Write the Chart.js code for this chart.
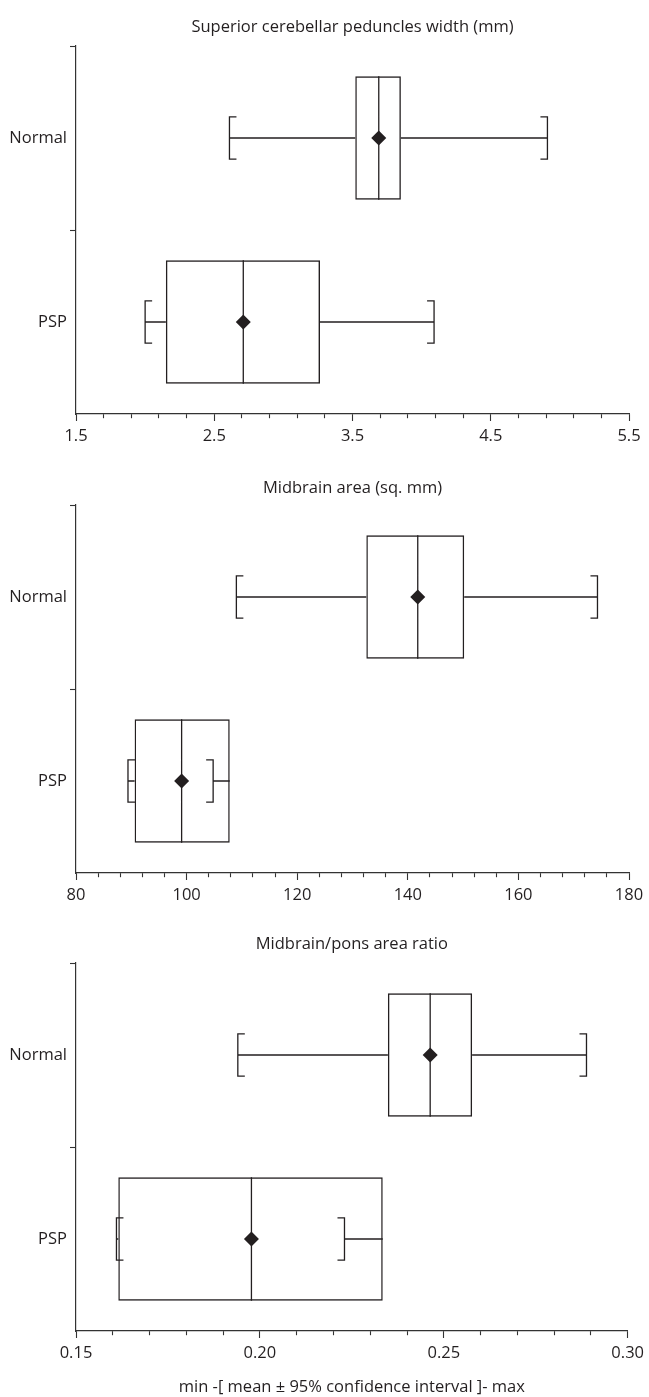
<!DOCTYPE html>
<html>
<head>
<meta charset="utf-8">
<script src="https://cdn.jsdelivr.net/npm/chart.js@4/dist/chart.umd.min.js"></script>
<style>
html,body{margin:0;padding:0;background:#ffffff;}
#wrap{position:relative;width:649px;height:1397px;overflow:hidden;}
.panel{position:absolute;left:0;width:649px;}
canvas{display:block;}
</style>
</head>
<body>
<div id="wrap">
  <div class="panel" style="top:0px;height:459px"><canvas id="c1" width="649" height="459"></canvas></div>
  <div class="panel" style="top:459px;height:459px"><canvas id="c2" width="649" height="459"></canvas></div>
  <div class="panel" style="top:917px;height:480px"><canvas id="c3" width="649" height="480"></canvas></div>
</div>
<script>
// ---------------- data ----------------
const categories = ['Normal', 'PSP'];

// Panel 1: Superior cerebellar peduncles width (mm)
const scpTitle = 'Superior cerebellar peduncles width (mm)';
const scpCapLow  = [2.61, 2.00];
const scpBoxLow  = [3.52, 2.15];
const scpMean    = [3.69, 2.71];
const scpBoxHigh = [3.85, 3.265];
const scpCapHigh = [4.91, 4.09];
const scpTickLabels = [1.5, 2.5, 3.5, 4.5, 5.5];
const scpMinorStep = 0.2;

// Panel 2: Midbrain area (sq. mm)
const mbTitle = 'Midbrain area (sq. mm)';
const mbCapLow  = [109.0, 89.4];
const mbBoxLow  = [132.5, 90.6];
const mbMean    = [141.8, 99.1];
const mbBoxHigh = [150.2, 107.8];
const mbCapHigh = [174.3, 104.8];
const mbTickLabels = [80, 100, 120, 140, 160, 180];
const mbMinorStep = 4;

// Panel 3: Midbrain/pons area ratio
const ratioTitle = 'Midbrain/pons area ratio';
const ratioCapLow  = [0.194, 0.161];
const ratioBoxLow  = [0.2348, 0.1615];
const ratioMean    = [0.2463, 0.1977];
const ratioBoxHigh = [0.2577, 0.2334];
const ratioCapHigh = [0.2888, 0.2230];
const ratioTickLabels = [0.15, 0.20, 0.25, 0.30];
const ratioMinorStep = 0.01;

const xAxisTitle = 'min -[ mean \u00B1 95% confidence interval ]- max';

// ---------------- styling ----------------
const INK = '#231f20';
const AXIS = '#333333';
const FS = 16.5;
Chart.defaults.font.family = "'Open Sans', 'Noto Sans', sans-serif";
Chart.defaults.color = INK;

const whiskerPlugin = {
  id: 'whiskers',
  beforeDatasetsDraw(chart, args, opts) {
    const {ctx, scales} = chart;
    const x = scales.x, y = scales.y;
    const band = Math.abs(y.getPixelForValue(1) - y.getPixelForValue(0));
    const capHalf = band * opts.capFraction / 2;
    const serif = opts.serif;
    const boxMeta = chart.getDatasetMeta(0);
    ctx.save();
    ctx.strokeStyle = opts.color;
    ctx.lineWidth = opts.lineWidth;
    ctx.lineCap = 'butt';
    categories.forEach((c, i) => {
      const yc = y.getPixelForValue(i);
      const half = boxMeta.data[i].height / 2;
      const xl = x.getPixelForValue(opts.capLow[i]);
      const xbl = x.getPixelForValue(opts.boxLow[i]);
      const xm = x.getPixelForValue(opts.mean[i]);
      const xbh = x.getPixelForValue(opts.boxHigh[i]);
      const xh = x.getPixelForValue(opts.capHigh[i]);
      ctx.beginPath();
      ctx.moveTo(xl, yc); ctx.lineTo(xbl, yc);
      ctx.moveTo(xbh, yc); ctx.lineTo(xh, yc);
      ctx.moveTo(xl + serif, yc - capHalf); ctx.lineTo(xl, yc - capHalf);
      ctx.lineTo(xl, yc + capHalf); ctx.lineTo(xl + serif, yc + capHalf);
      ctx.moveTo(xh - serif, yc - capHalf); ctx.lineTo(xh, yc - capHalf);
      ctx.lineTo(xh, yc + capHalf); ctx.lineTo(xh - serif, yc + capHalf);
      ctx.moveTo(xm, yc - half); ctx.lineTo(xm, yc + half);
      ctx.stroke();
    });
    ctx.restore();
  }
};

function makePanel(id, p) {
  const isMajor = v => p.tickLabels.some(t => Math.abs(t - v) < p.minorStep * 1e-3);
  const fmt = v => {
    const t = p.tickLabels.find(t => Math.abs(t - v) < p.minorStep * 1e-3);
    return t === undefined ? '' : t.toFixed(p.decimals);
  };
  return new Chart(document.getElementById(id), {
    type: 'bar',
    data: {
      labels: categories,
      datasets: [
        {
          type: 'bar',
          data: categories.map((c, i) => [p.boxLow[i], p.boxHigh[i]]),
          backgroundColor: 'rgba(255,255,255,0)',
          borderColor: INK,
          borderWidth: 1.4,
          borderSkipped: false,
          barPercentage: 0.67,
          categoryPercentage: 1.0,
          order: 2
        },
        {
          type: 'scatter',
          data: categories.map((c, i) => ({x: p.mean[i], y: c})),
          showLine: false,
          pointStyle: 'rectRot',
          pointRadius: 7.5,
          pointHoverRadius: 7.5,
          pointBackgroundColor: INK,
          pointBorderColor: INK,
          pointBorderWidth: 0,
          order: 1
        }
      ]
    },
    options: {
      indexAxis: 'y',
      responsive: false,
      animation: false,
      events: [],
      layout: {padding: {left: 0, right: 20, top: 0, bottom: 0}},
      plugins: {
        legend: {display: false},
        tooltip: {enabled: false},
        title: {
          display: true,
          text: p.title,
          fullSize: false,
          color: INK,
          font: {size: FS, weight: 'normal', lineHeight: 1.2},
          padding: {top: p.titleTop, bottom: 46 - p.titleTop - FS * 1.2}
        },
        whiskers: {
          capLow: p.capLow, boxLow: p.boxLow, mean: p.mean,
          boxHigh: p.boxHigh, capHigh: p.capHigh,
          capFraction: 0.23, serif: 7, color: INK, lineWidth: 1.3
        }
      },
      scales: {
        x: {
          type: 'linear',
          position: 'bottom',
          offset: false,
          min: p.tickLabels[0],
          max: p.tickLabels[p.tickLabels.length - 1],
          afterFit: s => { s.height = p.xAxisHeight; },
          border: {display: true, color: AXIS, width: 1.2},
          grid: {
            display: true,
            offset: false,
            drawOnChartArea: false,
            drawTicks: true,
            tickLength: 7,
            tickWidth: 1.1,
            tickColor: AXIS,
            tickBorderDash: ctx => (ctx.tick && isMajor(ctx.tick.value)) ? [] : [4, 20]
          },
          ticks: {
            stepSize: p.minorStep,
            autoSkip: false,
            maxTicksLimit: 1000,
            maxRotation: 0,
            padding: 5,
            color: INK,
            font: {size: FS},
            callback: v => fmt(v)
          },
          title: p.axisTitle ? {
            display: true, text: p.axisTitle, color: INK,
            font: {size: FS, weight: 'normal', lineHeight: 1.2}, padding: {top: 0, bottom: 0}
          } : {display: false}
        },
        y: {
          type: 'category',
          labels: categories,
          position: 'left',
          offset: true,
          afterFit: s => { s.width = 76; },
          border: {display: true, color: AXIS, width: 1.2},
          grid: {
            display: true,
            offset: true,
            drawOnChartArea: false,
            drawTicks: true,
            tickLength: 6,
            tickWidth: 1.1,
            tickColor: ctx => ctx.type === 'tick' ? AXIS : 'rgba(0,0,0,0)'
          },
          ticks: {padding: 3, color: INK, font: {size: FS}}
        }
      }
    },
    plugins: [whiskerPlugin]
  });
}

makePanel('c1', {
  title: scpTitle, capLow: scpCapLow, boxLow: scpBoxLow, mean: scpMean,
  boxHigh: scpBoxHigh, capHigh: scpCapHigh, tickLabels: scpTickLabels,
  minorStep: scpMinorStep, decimals: 1, xAxisHeight: 45, titleTop: 17
});
makePanel('c2', {
  title: mbTitle, capLow: mbCapLow, boxLow: mbBoxLow, mean: mbMean,
  boxHigh: mbBoxHigh, capHigh: mbCapHigh, tickLabels: mbTickLabels,
  minorStep: mbMinorStep, decimals: 0, xAxisHeight: 45, titleTop: 19
});
makePanel('c3', {
  title: ratioTitle, capLow: ratioCapLow, boxLow: ratioBoxLow, mean: ratioMean,
  boxHigh: ratioBoxHigh, capHigh: ratioCapHigh, tickLabels: ratioTickLabels,
  minorStep: ratioMinorStep, decimals: 2, xAxisHeight: 66, axisTitle: xAxisTitle, titleTop: 17
});
</script>
</body>
</html>
